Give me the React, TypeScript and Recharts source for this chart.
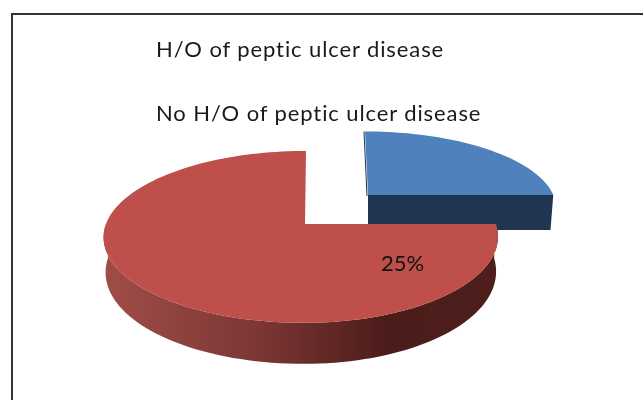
import React from "react";
import { PieChart, Pie, Legend } from "recharts";

const categories = ["H/O of peptic ulcer disease", "No H/O of peptic ulcer disease"];
const values = [25, 75];
const topColors = ["#4F81BD", "#BE4F4B"];
const sideColors = ["#1F3552", "url(#redSide)"];
const data = categories.map((name, i) => ({ name, value: values[i], fill: topColors[i] }));

const K = 0.15;
const looks = [
  { dx: 63, dy: -29, sx: 0.97, sy: 0.87, skew: -3, depth: 35, shrink: 0.985 },
  { dx: 0, dy: 0, sx: 1, sy: 1, skew: 1, depth: 34, shrink: 0.99 },
];

function SolidSlice(props: any) {
  const { cx, cy, outerRadius: R, startAngle, endAngle, name, fill } = props;
  const idx = categories.indexOf(name);
  const l = looks[idx];
  const ox = cx + l.dx;
  const oy = cy + l.dy;
  const a = 0.44 * R * l.sy;
  const pt = (deg: number, lift = 0) => {
    const t = (deg * Math.PI) / 180;
    const X = Math.cos(t);
    const Y = Math.sin(t);
    const b = (X < 0 ? 1.042 : 1) * R * l.sx;
    const w = 1 + K * Y;
    const shrink = lift ? l.shrink : 1;
    const extra = lift ? lift + 7 * Math.max(0, -Y) : 0;
    return [ox + (shrink * b * X) / w + l.skew * Y, oy - (a * Y) / w + extra];
  };
  const arc = (from: number, to: number, lift = 0) => {
    const n = Math.max(2, Math.ceil(Math.abs(to - from) / 2));
    const pts: number[][] = [];
    for (let i = 0; i <= n; i++) pts.push(pt(from + ((to - from) * i) / n, lift));
    return pts;
  };
  const toPath = (pts: number[][]) => pts.map((p, i) => `${i ? "L" : "M"}${p[0].toFixed(2)} ${p[1].toFixed(2)}`).join("") + "Z";
  const frontFrom = Math.min(startAngle, 0);
  const frontTo = Math.max(endAngle, -180);
  const hasFront = frontFrom > frontTo;
  const rim = pt(endAngle);
  const rimLow = pt(endAngle, l.depth);
  return (
    <g>
      <defs>
        <linearGradient id="redSide" x1="0" y1="0" x2="1" y2="0">
          <stop offset="0" stopColor="#A04D49" />
          <stop offset="0.4" stopColor="#7B3634" />
          <stop offset="0.72" stopColor="#4B1C1A" />
          <stop offset="1" stopColor="#4F1F1C" />
        </linearGradient>
      </defs>
      {hasFront && (
        <path d={toPath([...arc(frontFrom, frontTo), ...arc(frontTo, frontFrom, l.depth)])} fill={sideColors[idx]} />
      )}
      {!hasFront && (
        <path d={toPath([[ox, oy], rim, rimLow, [ox, oy + l.depth]])} fill={sideColors[idx]} />
      )}
      <path d={toPath([[ox, oy], ...arc(startAngle, endAngle)])} fill={fill} />
      {!hasFront && (
        <path d={`M${pt(startAngle)[0] - 1} ${pt(startAngle)[1]}L${ox - 1} ${oy + 1}`} stroke={sideColors[idx]} strokeWidth={1} fill="none" />
      )}
    </g>
  );
}

function PercentLabel(props: any) {
  const { index, cx, cy, percent } = props;
  if (index !== 0) return null;
  return (
    <text x={cx + 97.5} y={cy + 38} textAnchor="middle" dominantBaseline="central" fill="#111" fontSize={22} fontFamily="Lato, sans-serif">
      {`${Math.round(percent * 100)}%`}
    </text>
  );
}

function LegendText({ payload }: any) {
  return (
    <div style={{ fontFamily: "Lato, sans-serif", fontSize: 22, color: "#1a1a1a", lineHeight: "64px", whiteSpace: "nowrap", letterSpacing: 0.9 }}>
      {(payload || []).map((p: any) => (
        <div key={p.value}>{p.value}</div>
      ))}
    </div>
  );
}

export default function App() {
  return (
    <div style={{ position: "absolute", left: 0, top: 0, width: 643, height: 400, overflow: "hidden", background: "#fff", filter: "blur(0.7px)" }}>
      <div style={{ position: "absolute", left: 11, top: 13, width: 640, height: 400, borderLeft: "2px solid #333", borderTop: "2px solid #333", boxSizing: "border-box" }} />
      <PieChart width={643} height={400} margin={{ top: 0, right: 0, bottom: 0, left: 0 }} style={{ position: "absolute", left: 0, top: 0 }}>
        <Legend
          layout="vertical"
          align="center"
          verticalAlign="middle"
          content={<LegendText />}
          wrapperStyle={{ position: "absolute", left: 156, top: 17, width: 420 }}
        />
        <Pie
          data={data}
          dataKey="value"
          nameKey="name"
          cx={305}
          cy={224}
          outerRadius={191}
          startAngle={90}
          endAngle={-270}
          stroke="none"
          shape={<SolidSlice />}
          label={<PercentLabel />}
          labelLine={false}
          isAnimationActive={false}
        />
      </PieChart>
    </div>
  );
}
